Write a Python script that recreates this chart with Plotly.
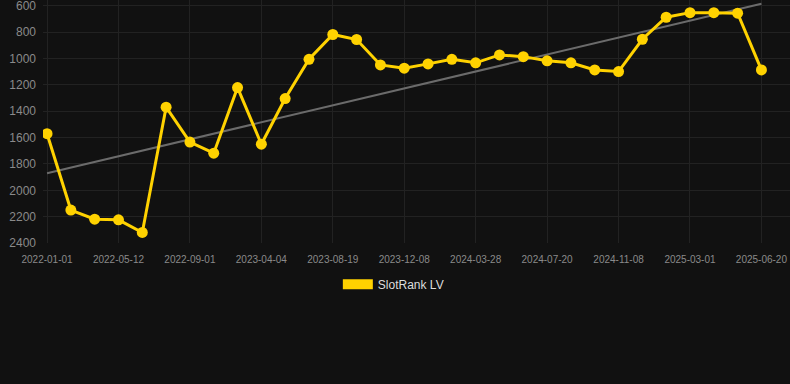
import numpy as np
import plotly.graph_objects as go

# Categories (one per data point); labelled every third point on the axis
dates = [
    "2022-01-01", "2022-02-13", "2022-03-29", "2022-05-12", "2022-06-18", "2022-07-25",
    "2022-09-01", "2022-11-12", "2023-01-22", "2023-04-04", "2023-05-19", "2023-07-04",
    "2023-08-19", "2023-09-25", "2023-11-01", "2023-12-08", "2024-01-14", "2024-02-20",
    "2024-03-28", "2024-05-05", "2024-06-12", "2024-07-20", "2024-08-26", "2024-10-02",
    "2024-11-08", "2024-12-20", "2025-01-19", "2025-03-01", "2025-04-07", "2025-05-14",
    "2025-06-20",
]
rank = [
    1570, 2150, 2219, 2224, 2320, 1369, 1634, 1718, 1220, 1650, 1303,
    1005, 817, 855, 1048, 1073, 1040, 1005, 1032, 972, 985, 1017,
    1032, 1086, 1098, 853, 686, 651, 651, 655, 1086,
]
tick_labels = dates[::3]
y_ticks = [600, 800, 1000, 1200, 1400, 1600, 1800, 2000, 2200, 2400]

idx = np.arange(len(rank))
slope, intercept = np.polyfit(idx, rank, 1)
trend = [intercept, intercept + slope * idx[-1]]

fig = go.Figure()
fig.add_trace(go.Scatter(
    x=[dates[0], dates[-1]], y=trend, mode="lines",
    line=dict(color="#6b6b6b", width=2), showlegend=False, hoverinfo="skip",
))
fig.add_trace(go.Scatter(
    x=dates, y=rank, mode="lines+markers",
    line=dict(color="#FFD200", width=3),
    marker=dict(color="#FFD200", size=11),
    showlegend=False,
))
fig.add_trace(go.Scatter(
    x=[None], y=[None], mode="lines", name="SlotRank LV",
    line=dict(color="#FFD200", width=11),
))

fig.update_layout(
    width=790, height=384,
    paper_bgcolor="#111111", plot_bgcolor="#111111",
    margin=dict(l=43, r=0, t=0, b=141),
    font=dict(family="Arial, Liberation Sans, sans-serif", color="#888888"),
    showlegend=True,
    legend=dict(orientation="h", x=0.469, xanchor="center", y=-0.11, yanchor="top",
                font=dict(size=12, color="#dddddd"), bgcolor="rgba(0,0,0,0)"),
)
fig.update_xaxes(
    type="category", categoryorder="array", categoryarray=dates,
    range=[-0.17, 31.2],
    tickmode="array", tickvals=tick_labels, ticktext=tick_labels,
    tickfont=dict(size=10, color="#8a8a8a"),
    ticks="", ticklabelstandoff=9,
    ticklabeloverflow="allow",
    showgrid=True, gridcolor="#222222", gridwidth=1,
    zeroline=False, showline=False,
)
fig.update_yaxes(
    range=[2400, 555], tickvals=y_ticks,
    tickfont=dict(size=12, color="#8a8a8a"),
    ticks="", ticklabelstandoff=6,
    ticklabeloverflow="allow",
    showgrid=True, gridcolor="#222222", gridwidth=1,
    zeroline=False, showline=False,
)

fig.write_html(
    "out.html",
    config={"displayModeBar": False},
    post_script="document.body.style.margin='0';document.body.style.background='#111111';",
)
